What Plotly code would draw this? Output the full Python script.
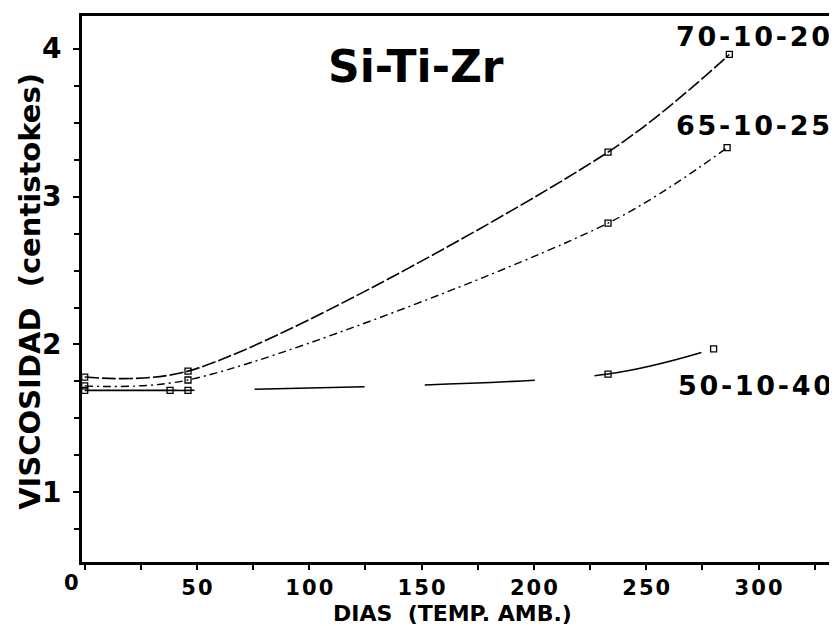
import plotly.graph_objects as go

# ---- data ----
days_70 = [0, 46, 233, 287]
visc_70 = [1.78, 1.82, 3.30, 3.96]

days_65 = [0, 46, 233, 286]
visc_65 = [1.72, 1.76, 2.82, 3.33]

days_50 = [0, 38, 46, 233, 280]
visc_50 = [1.69, 1.69, 1.69, 1.80, 1.97]

series_labels = ["70-10-20", "65-10-25", "50-10-40"]
x_tick_vals = [50, 100, 150, 200, 250, 300]
y_tick_vals = [1, 2, 3, 4]

FONT = "DejaVu Sans"
HS = "\u200a"  # hair space to widen the plotter-style lettering


def spaced(s):
    return HS.join(list(str(s)))


fig = go.Figure()

styles = [
    dict(dash="14px,3px", width=1.6),
    dict(dash="8px,4px,2px,4px", width=1.4),
    dict(dash="110px,60px", width=1.6),
]
for (dx, vy), st in zip([(days_70, visc_70), (days_65, visc_65), (days_50, visc_50)], styles):
    fig.add_trace(go.Scatter(
        x=dx, y=vy, mode="lines+markers",
        line=dict(color="black", width=st["width"], dash=st["dash"], shape="spline", smoothing=0.9),
        marker=dict(symbol="square-open", size=6, color="black", line=dict(width=1.3)),
        showlegend=False,
    ))

# series labels
label_pos = [(297.5, 4.08), (297.5, 3.48), (298.5, 1.72)]
for txt, (lx, ly) in zip(series_labels, label_pos):
    fig.add_annotation(x=lx, y=ly, xref="x", yref="y", text=spaced(txt), showarrow=False,
                       xanchor="center", yanchor="middle",
                       font=dict(family=FONT, size=27, color="black", weight="bold"))

# chart title
fig.add_annotation(x=147.5, y=3.88, xref="x", yref="y", text="Si-Ti-Zr", showarrow=False,
                   xanchor="center", yanchor="middle",
                   font=dict(family=FONT, size=44, color="black", weight="bold"))

# axis titles and corner zero
fig.add_annotation(x=-0.068, y=0.495, xref="paper", yref="paper", textangle=-90,
                   text="VISCOSIDAD  (centistokes)", showarrow=False,
                   xanchor="center", yanchor="middle",
                   font=dict(family=FONT, size=29, color="black", weight="bold"))
fig.add_annotation(x=0.485, y=-0.1205, xref="paper", yref="paper",
                   text="DIAS  (TEMP. AMB.)", showarrow=False,
                   xanchor="center", yanchor="bottom",
                   font=dict(family=FONT, size=22, color="black", weight="bold"))
fig.add_annotation(x=-0.0144, y=-0.038, xref="paper", yref="paper", text="0", showarrow=False,
                   xanchor="center", yanchor="middle",
                   font=dict(family=FONT, size=21, color="black", weight="bold"))

fig.update_xaxes(
    range=[-1.2, 338.5], showgrid=False, zeroline=False,
    showline=True, linecolor="black", linewidth=3, mirror=True,
    ticks="outside", ticklen=5, tickwidth=2, tickcolor="black",
    tickvals=x_tick_vals, ticktext=[spaced(v) for v in x_tick_vals],
    tickfont=dict(family=FONT, size=21, color="black", weight="bold"),
    minor=dict(dtick=25, tick0=0, ticks="outside", ticklen=5, tickwidth=2, tickcolor="black"),
    ticklabelstandoff=0,
)
fig.update_yaxes(
    range=[0.53, 4.22], showgrid=False, zeroline=False,
    showline=True, linecolor="black", linewidth=3, mirror=False,
    ticks="outside", ticklen=6, tickwidth=2, tickcolor="black",
    tickvals=y_tick_vals, ticktext=[str(v) for v in y_tick_vals],
    tickfont=dict(family=FONT, size=28, color="black", weight="bold"),
    minor=dict(dtick=0.25, tick0=0, ticks="outside", ticklen=5, tickwidth=2, tickcolor="black"),
    ticklabelstandoff=6,
)

fig.update_layout(
    width=837, height=626,
    margin=dict(l=74, r=0, t=8, b=72),
    paper_bgcolor="white", plot_bgcolor="white",
)

fig.write_html("out.html")
